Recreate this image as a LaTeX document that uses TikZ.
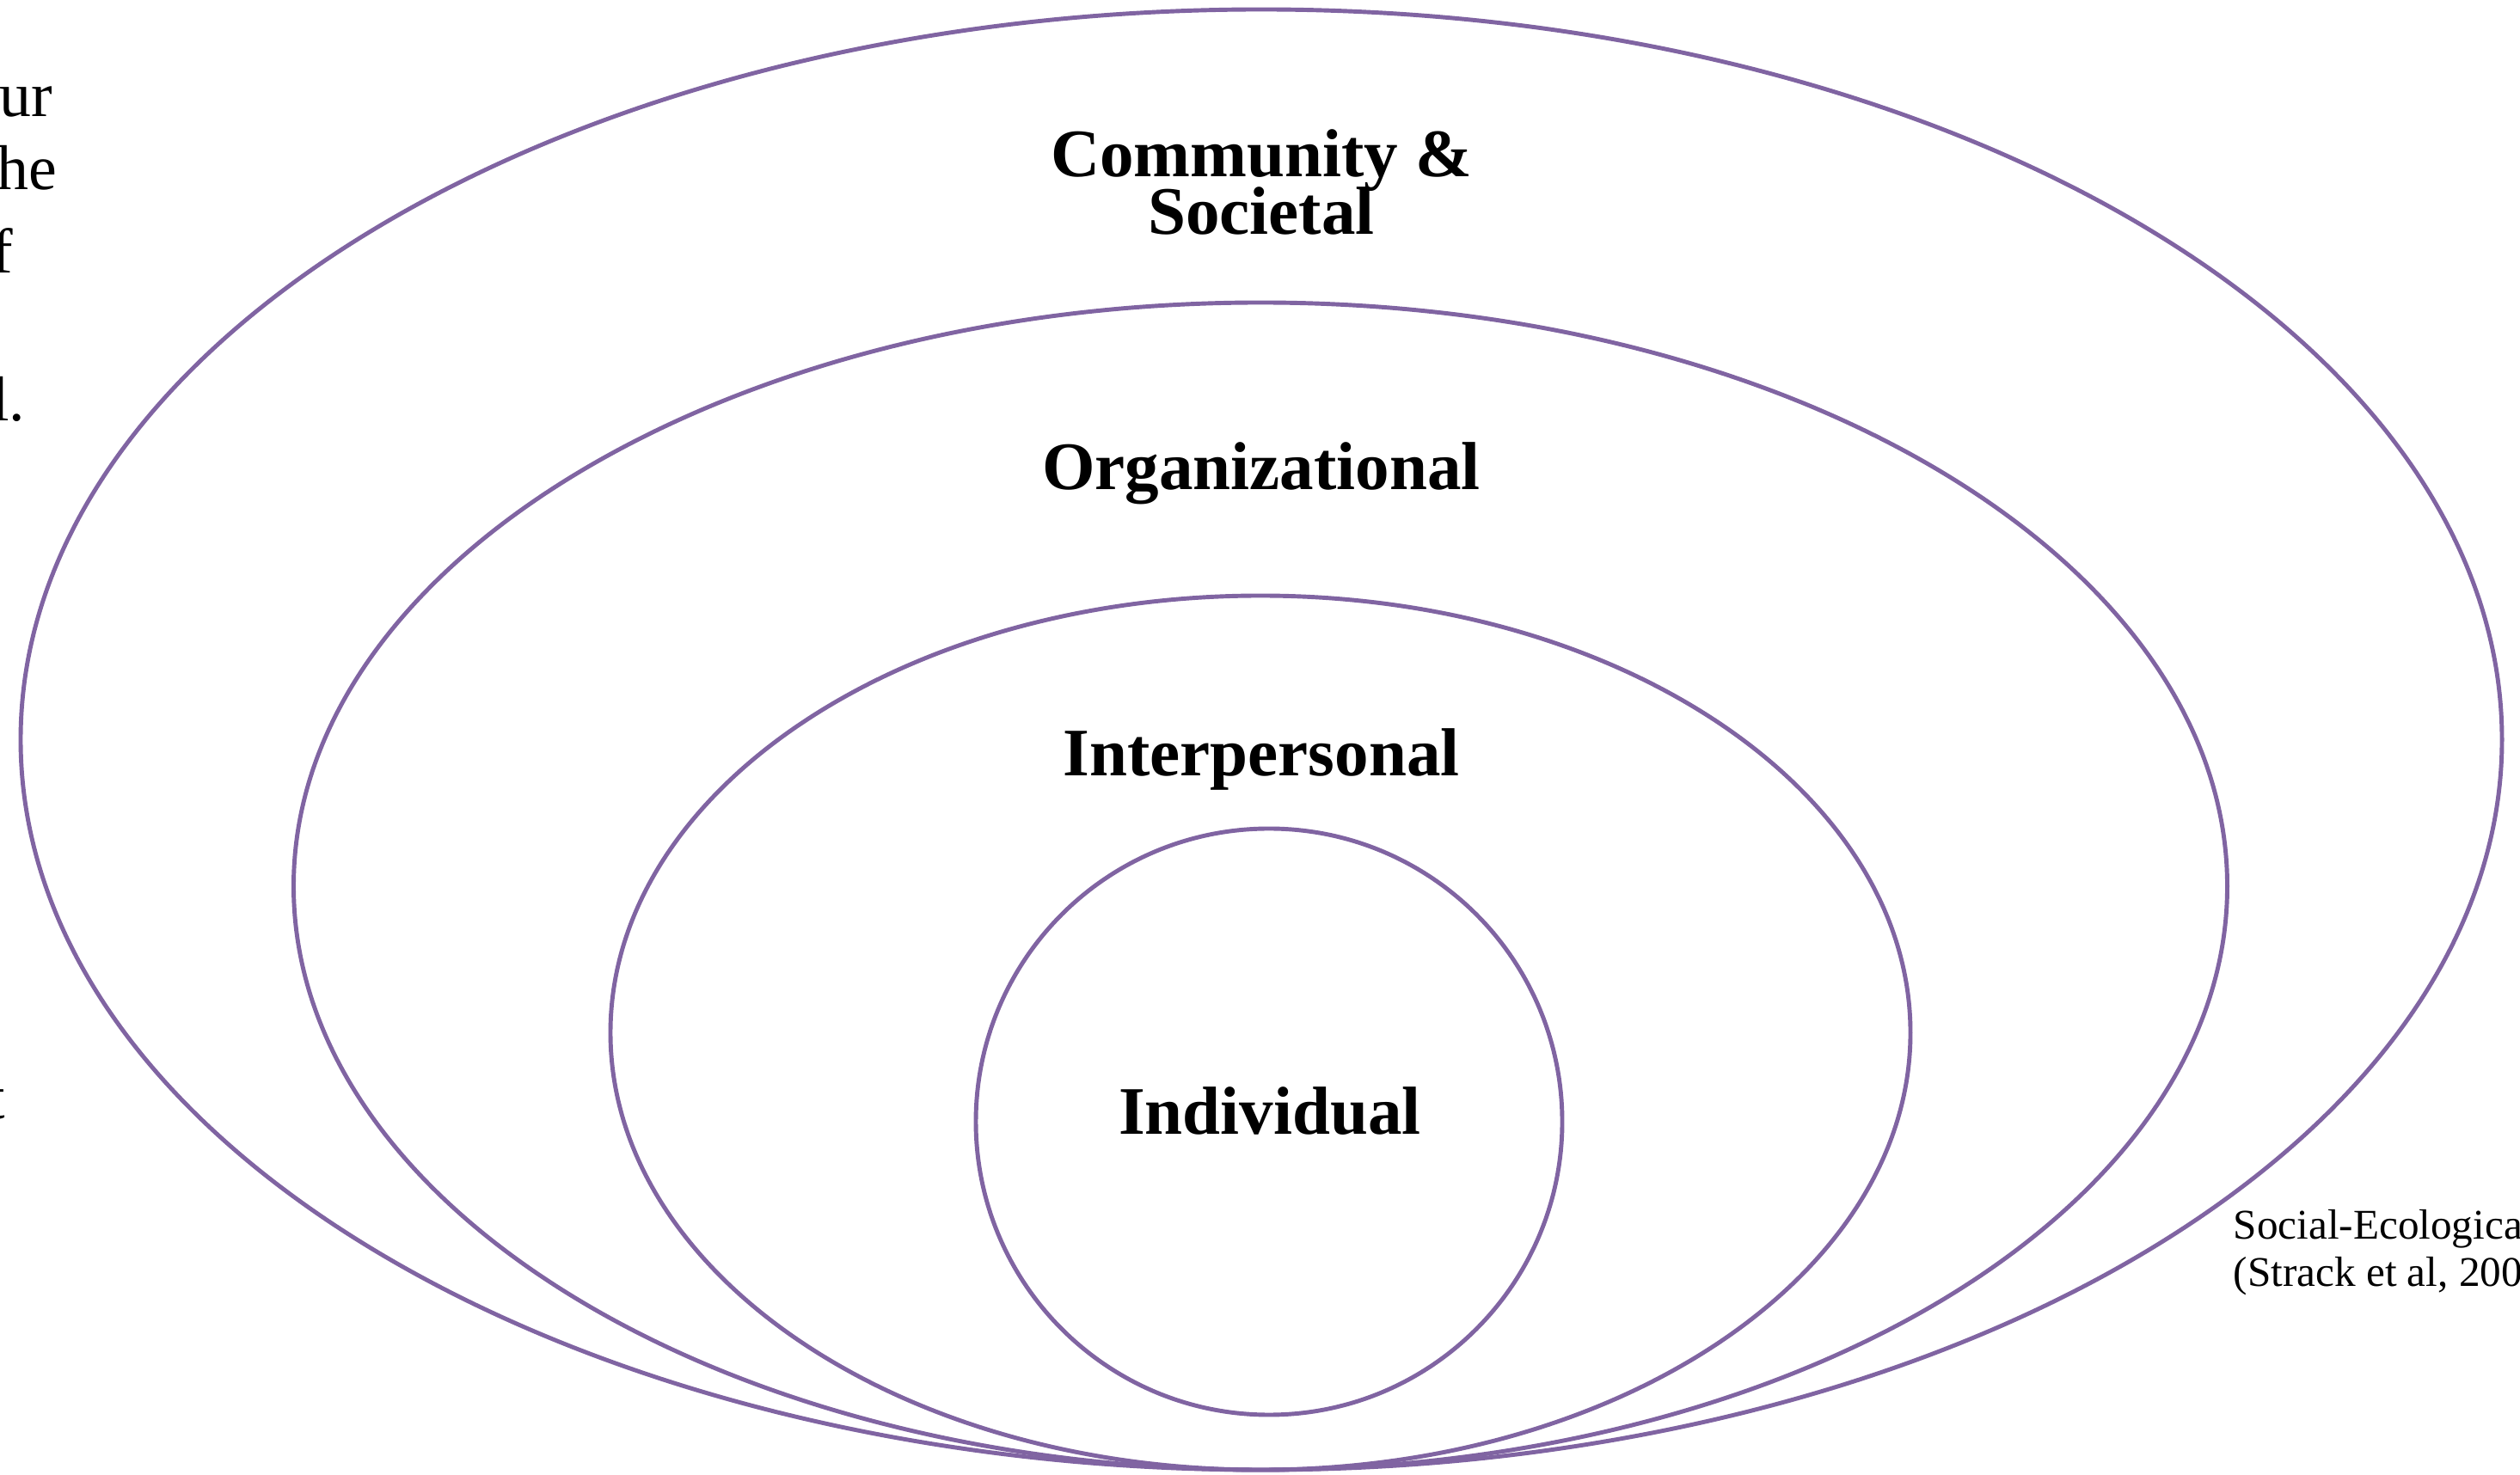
\documentclass[tikz,border=0pt]{standalone}
\usepackage{fontspec}
\setmainfont{Liberation Serif}
\definecolor{ringpurple}{HTML}{8064A2}
\tikzset{
  ring/.style={draw=ringpurple, line width=1.4pt},
  level/.style={font=\fontsize{22.5}{16.8}\selectfont\bfseries, align=center, anchor=base},
  cuttext/.style={font=\fontsize{21}{24}\selectfont, anchor=base east, inner sep=0pt},
  source/.style={font=\fontsize{14}{13}\selectfont, anchor=base west, inner sep=0pt}
}
\begin{document}
\begin{tikzpicture}
    \useasboundingbox (0,0) rectangle (29.31,17.15);

    % nested rings, outermost first
    \foreach \cx/\cy/\rx/\ry in {14.67/8.545/14.43/8.495, 14.66/6.84/11.245/6.79, 14.66/5.135/7.56/5.085, 14.76/4.10/3.41/3.41}
      {
        \draw[ring] (\cx,\cy) ellipse [x radius=\rx, y radius=\ry];
      }

    \node[level] (community) at (14.67, 17.15-2.73) {Community \&\\[-0.08cm]Societal};
    \node[level] (organizational) at (14.67, 17.15-5.70) {Organizational};
    \node[level] (interpersonal) at (14.67, 17.15-9.03) {Interpersonal};
    \node[level] (individual) at (14.77, 17.15-13.20) {Individual};

    % text running off the left edge
    \node[cuttext] (cutA) at (0.62, 17.15-1.36) {ur};
    \node[cuttext] (cutB) at (0.67, 17.15-2.21) {he};
    \node[cuttext] (cutC) at (0.16, 17.15-3.18) {f};
    \node[cuttext] (cutD) at (0.30, 17.15-4.90) {l.};
    \node[cuttext] (cutE) at (0.07, 17.15-13.02) {t};

    % source note running off the right edge
    \node[source] (sourceA) at (25.97, 17.15-14.42) {Social-Ecological};
    \node[source] (sourceB) at (25.97, 17.15-14.97) {(Strack et al, 2009)};
\end{tikzpicture}
\end{document}
